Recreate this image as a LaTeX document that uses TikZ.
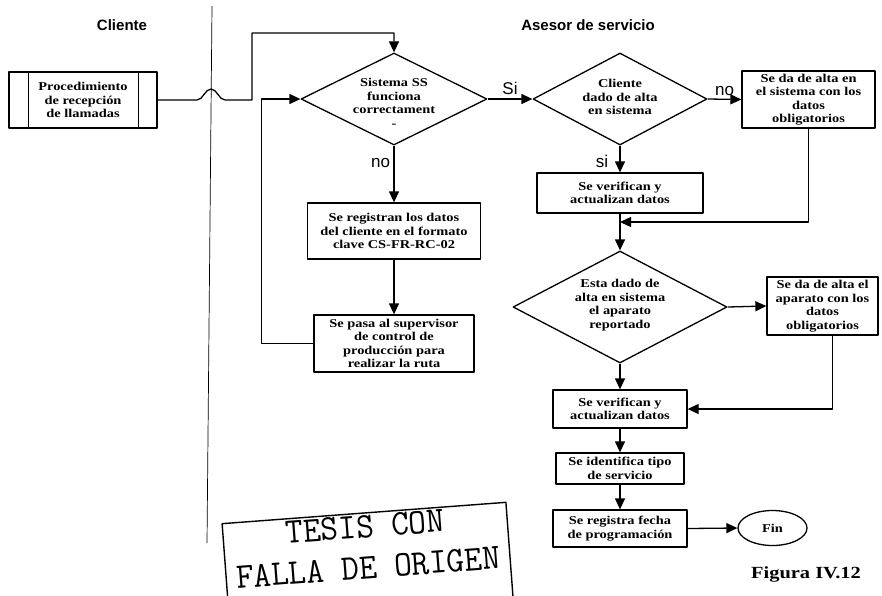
\documentclass[tikz,border=0pt]{standalone}
\usepackage{fontspec}
\setmainfont{Liberation Serif}[FakeStretch=1.2]
\setsansfont{Liberation Sans}
\newfontfamily\sellofont{Latin Modern Mono}[FakeStretch=0.95]
\usetikzlibrary{arrows.meta,shapes.geometric,calc}
\newcommand{\boxtext}{\fontsize{12}{13.5}\selectfont\bfseries}

\begin{document}
\begin{tikzpicture}[x=1pt, y=-1pt, line join=round,
  paso/.style={draw, line width=\fdLine, align=center, font=\boxtext, inner sep=1pt},
  decision/.style={draw, diamond, line width=\fdLine, inner sep=0pt},
  txt/.style={align=center, font=\boxtext},
  fin/.style={draw, ellipse, line width=\fdLine, font=\boxtext, inner sep=0pt},
  flow/.style={line width=\fdLine, -{Triangle[length=11pt,width=10pt]}},
  rama/.style={font=\sffamily\fontsize{17}{19}\selectfont},
  titulo/.style={font=\sffamily\bfseries\fontsize{15}{18}\selectfont},
  sello/.style={align=center, inner xsep=10pt, inner ysep=2pt,
    font=\sellofont\fontsize{36}{41}\selectfont}]
% Flowchart drawn in pixel units of the scan
\providecommand{\fdLine}{1.3pt}
\path[use as bounding box, fill=white] (0,0) rectangle (882,595);
% Lane divider and headings
\draw[line width=0.7pt] (212,6) -- (207,543);
\node[titulo] (cliente) at (122,25) {Cliente};
\node[titulo] (asesor) at (588,25) {Asesor de servicio};
% Cliente lane
\node[paso, minimum width=148pt, minimum height=56pt] (recepcion) at (83,100) {Procedimiento\\de recepción\\de llamadas};
\draw[line width=\fdLine] ([xshift=20pt]recepcion.north west) -- ([xshift=20pt]recepcion.south west);
\draw[line width=\fdLine] ([xshift=-19pt]recepcion.north east) -- ([xshift=-19pt]recepcion.south east);
% Asesor lane, left column
\node[decision, minimum width=186pt, minimum height=92pt,
  label={[txt, yshift=-4pt]center:{Sistema SS\\funciona\\correctament\\-}}] (sistema) at (394,99) {};
\node[paso, minimum width=173pt, minimum height=56pt] (registro) at (394,231) {Se registran los datos\\del cliente en el formato\\clave CS-FR-RC-02};
\node[paso, minimum width=160pt, minimum height=57pt] (supervisor) at (394,343.5) {Se pasa al supervisor\\de control de\\producción para\\realizar la ruta};
% Asesor lane, right column
\node[decision, minimum width=174pt, minimum height=92pt,
  label={[txt, yshift=2pt]center:{Cliente\\dado de alta\\en sistema}}] (alta) at (620,99) {};
\node[paso, minimum width=133pt, minimum height=57pt] (altacliente) at (808.5,99.5) {Se da de alta en\\el sistema con los\\datos\\obligatorios};
\node[paso, minimum width=166pt, minimum height=40pt] (verifica) at (620,193) {Se verifican y\\actualizan datos};
\coordinate (union) at (620,222);
\node[decision, minimum width=214pt, minimum height=112pt,
  label={[txt, yshift=2pt]center:{Esta dado de\\alta en sistema\\el aparato\\reportado}}] (aparato) at (620,307) {};
\node[paso, minimum width=111pt, minimum height=58pt] (altaaparato) at (822.5,306) {Se da de alta el\\aparato con los\\datos\\obligatorios};
\node[paso, minimum width=134pt, minimum height=38pt] (verifica2) at (620,409) {Se verifican y\\actualizan datos};
\node[paso, minimum width=128pt, minimum height=31pt] (tipo) at (620,468.5) {Se identifica tipo\\de servicio};
\node[paso, minimum width=134pt, minimum height=37pt] (fecha) at (620,528.5) {Se registra fecha\\de programación};
\node[fin, minimum width=69pt, minimum height=35pt] (fin) at (772.5,528) {Fin};
% Connectors
\draw[flow] (recepcion.east) -- (197,100) .. controls (203,100) and (205,89) .. (211,89)
  .. controls (217,89) and (219,100) .. (225,100) -- (252,100) -- (252,33) -| (sistema.north);
\draw[flow] (sistema.east) -- node[rama, above] {Si} (alta.west);
\draw[flow] (sistema.south) -- node[rama, left, pos=0.3] {no} (registro.north);
\draw[flow] (registro.south) -- (supervisor.north);
\draw[flow] (supervisor.west) -- ++(-52,0) |- (sistema.west);
\draw[flow] (alta.east) -- node[rama, above] {no} (altacliente.west);
\draw[flow] (alta.south) -- node[rama, left, pos=0.6, xshift=-8pt] {si} (verifica.north);
\draw[flow] (altacliente.south) |- (union);
\draw[flow] (verifica.south) -- (aparato.north);
\draw[flow] (aparato.east) -- (altaaparato.west);
\draw[flow] (aparato.south) -- (verifica2.north);
\draw[flow] ([xshift=10pt]altaaparato.south) |- (verifica2.east);
\draw[flow] (verifica2.south) -- (tipo.north);
\draw[flow] (tipo.south) -- (fecha.north);
\draw[flow] (fecha.east) -- (fin.west);
% Caption and stamp (its lower edge runs off the page)
\node[font=\bfseries\fontsize{17}{20}\selectfont] (figura) at (806,574) {Figura IV.12};
\node[sello, rotate=4.3, anchor=north] (sello) at (364,513) {TESIS CON\\FALLA DE ORIGEN};
\draw[line width=1.4pt] ($(sello.north west)!1.6!(sello.south west)$) -- (sello.north west)
  -- (sello.north east) -- ($(sello.north east)!1.6!(sello.south east)$);
\end{tikzpicture}
\end{document}
